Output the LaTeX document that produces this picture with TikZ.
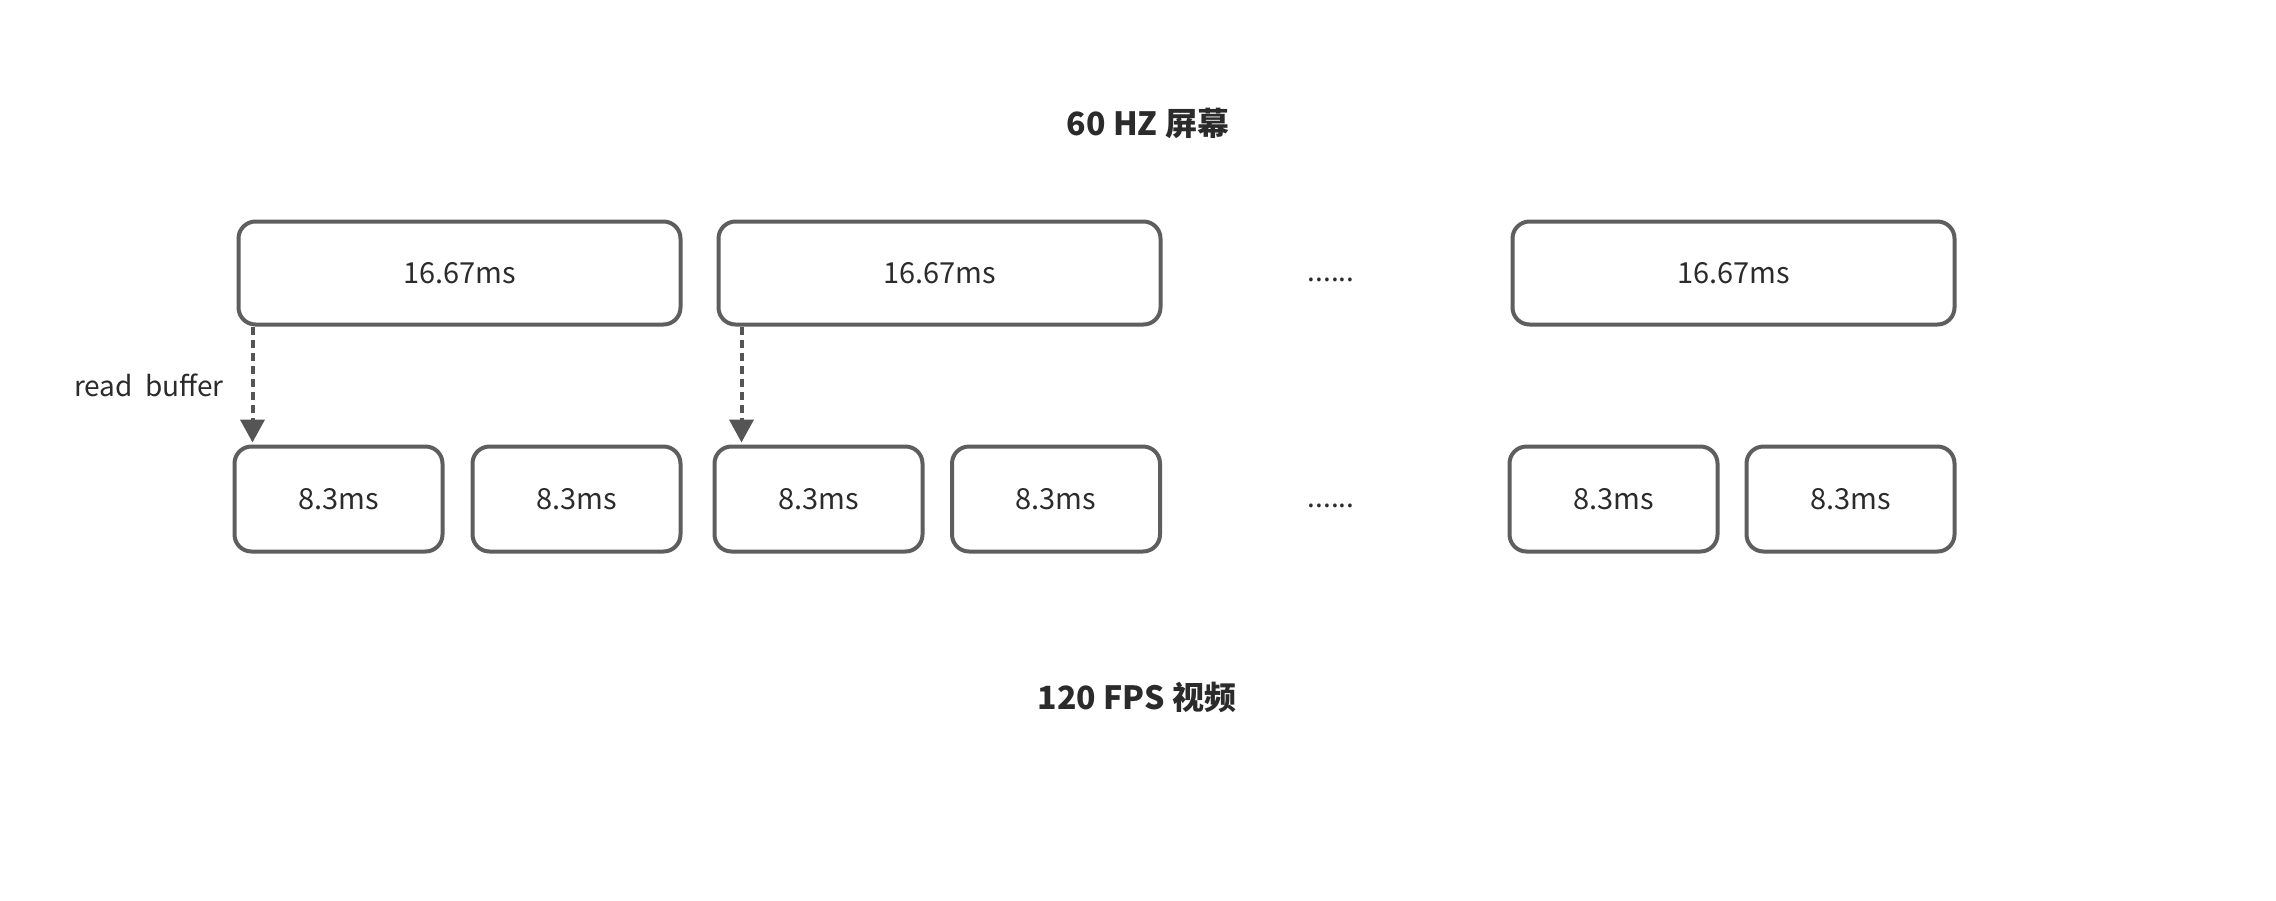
\documentclass[tikz,border=0pt]{standalone}
\usepackage{fontspec}
\setmainfont{Noto Sans CJK SC}
\usetikzlibrary{arrows.meta}
\definecolor{fpsLine}{HTML}{5E5E5E}
\definecolor{fpsText}{HTML}{2B2B2B}
\definecolor{fpsArrow}{HTML}{555555}
\tikzset{
  fps frame/.style={draw=fpsLine, line width=2pt, rounded corners=8.5pt, minimum width=221pt, minimum height=51.5pt, inner sep=0pt, text=fpsText, font=\fontsize{14.5}{17}\selectfont},
  fps slot/.style={fps frame, minimum width=104pt, minimum height=52.5pt},
  fps title/.style={font=\fontsize{16}{19}\selectfont\bfseries, text=fpsText},
  fps label/.style={font=\fontsize{14}{17}\selectfont, text=fpsText},
  fps read/.style={draw=fpsArrow, line width=2pt, dash pattern=on 4pt off 2.5pt, shorten >=1pt, -{Triangle[width=12pt,length=11.5pt]}},
}
\begin{document}
\begin{tikzpicture}[x=0.5pt,y=-0.5pt]
  \useasboundingbox (0,0) rectangle (2276,900);
  % titles
  \node[fps title] (screen) at (1148,123) {60 HZ 屏幕};
  \node[fps title] (video) at (1137,697) {120 FPS 视频};
  % 60 Hz frames
  \node[fps frame] (f1) at (459.5,273) {16.67ms};
  \node[fps frame] (f2) at (939.5,273) {16.67ms};
  \node[fps frame] (f3) at (1733.5,273) {16.67ms};
  \node[fps label] (fdots) at (1331,280) {......};
  % 120 fps frames
  \foreach \name/\x in {s1/338.5,s2/576.5,s3/818.5,s4/1056,s5/1613.5,s6/1850.5}
    \node[fps slot] (\name) at (\x,499) {8.3ms};
  \node[fps label] (sdots) at (1331,506) {......};
  % read buffer
  \draw[fps read] ([xshift=8pt]f1.south west) -- ([xshift=8pt]f1.south west |- s1.north)
    node[midway, left=10pt, fps label] (rb) {read~~buffer};
  \draw[fps read] ([xshift=12.5pt]f2.south west) -- ([xshift=12.5pt]f2.south west |- s3.north);
\end{tikzpicture}
\end{document}
